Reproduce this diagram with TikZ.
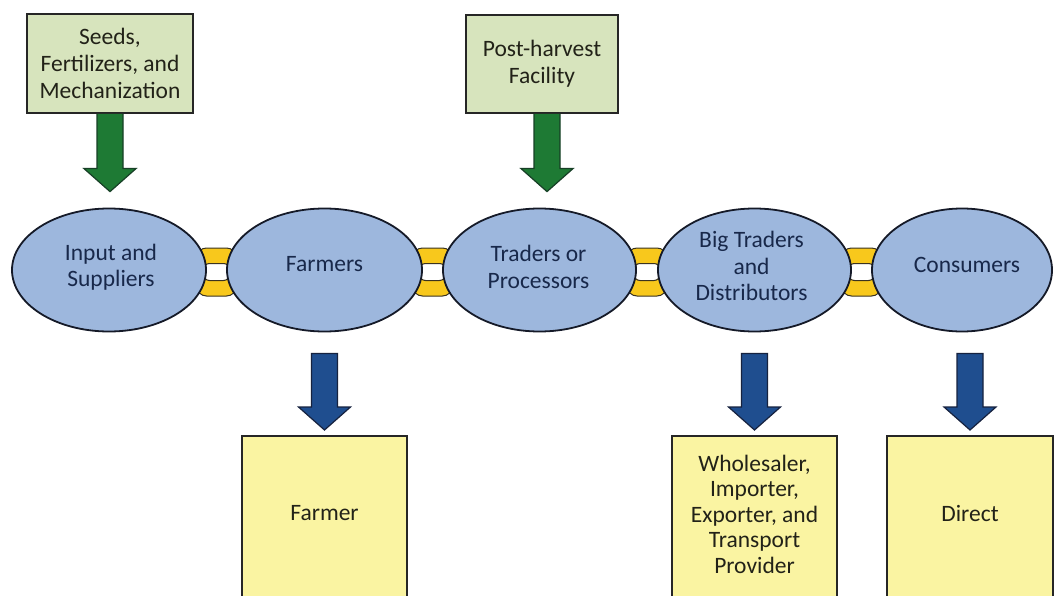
\documentclass[tikz,border=0pt]{standalone}
\usepackage{fontspec}
\setmainfont{Carlito}
\usetikzlibrary{calc,shapes.geometric}
\pgfdeclarelayer{background}
\pgfsetlayers{background,main}
\definecolor{boxgreen}{HTML}{D7E4BD}
\definecolor{boxyellow}{HTML}{FAF4A2}
\definecolor{ellblue}{HTML}{9DB7DD}
\definecolor{ringyellow}{HTML}{F8C81C}
\definecolor{ringline}{HTML}{3A3320}
\definecolor{arrgreen}{HTML}{1E7A34}
\definecolor{arrgreenline}{HTML}{173F26}
\definecolor{arrblue}{HTML}{1F4E8F}
\definecolor{arrblueline}{HTML}{16223F}
\definecolor{ellline}{HTML}{151A28}
\definecolor{elltext}{HTML}{18284A}
\definecolor{boxtext}{HTML}{222218}
\newcommand\fatdown[4]{%
  \filldraw[#1] let \p1=(#2), \p2=(#3) in
   (\x1-13pt,\y1) -- (\x1-13pt,\y2+23pt) -- (\x1-26pt,\y2+23pt) -- (\x1,\y2)
   -- (\x1+26pt,\y2+23pt) -- (\x1+13pt,\y2+23pt) -- (\x1+13pt,\y1) #4;}
\newcommand\chainring[1]{%
  \draw[ring] ($(#1)+(-20,-22)$) [rounded corners=10pt] rectangle ($(#1)+(20,26)$)
              ($(#1)+(-13,-6.5)$) [rounded corners=6pt] rectangle ($(#1)+(13,10.5)$);}
\begin{document}
\begin{tikzpicture}[x=1pt,y=-1pt,
  topbox/.style={rectangle, draw=black!85, line width=2pt, fill=boxgreen, inner sep=0pt,
                 align=center, font=\fontsize{23.5}{27}\selectfont, text=boxtext},
  botbox/.style={rectangle, draw=black!85, line width=2pt, fill=boxyellow, inner sep=0pt},
  ell/.style={ellipse, draw=ellline, line width=1.8pt, fill=ellblue, inner sep=0pt},
  elltxt/.style={align=center, font=\fontsize{23.5}{26.5}\selectfont, text=elltext, inner sep=0pt},
  boxtxt/.style={align=center, font=\fontsize{23.5}{25.5}\selectfont, text=boxtext, inner sep=0pt},
  ring/.style={fill=ringyellow, draw=ringline, line width=1pt, even odd rule},
  greenarrow/.style={fill=arrgreen, draw=arrgreenline, line width=1.2pt, line join=miter},
  bluearrow/.style={fill=arrblue, draw=arrblueline, line width=1.2pt, line join=miter}
]
\useasboundingbox (0,0) rectangle (1054,596);
\clip (0,0) rectangle (1054,596);

% top boxes
\node[topbox, minimum width=166, minimum height=99] (seeds) at (110,63.5)
  {Seeds,\\Fertilizers, and\\Mechanization};
\node[topbox, minimum width=152, minimum height=98] (post) at (542,64)
  {Post-harvest\\Facility};

% ellipses
\node[ell, minimum width=194, minimum height=123] (input)   at (109,270) {};
\node[ell, minimum width=195, minimum height=123] (farmers) at (324.5,270) {};
\node[ell, minimum width=193, minimum height=123] (traders) at (539.5,270) {};
\node[ell, minimum width=193, minimum height=123] (big)     at (754.5,270) {};
\node[ell, minimum width=180, minimum height=123] (cons)    at (962,270) {};

\node[elltxt] (inputtxt)   at ($(input)+(2,-3)$)   {Input and\\Suppliers};
\node[elltxt] (farmerstxt) at ($(farmers)+(0,-6)$) {Farmers};
\node[elltxt] (traderstxt) at ($(traders)+(-1,-3)$) {Traders or\\Processors};
\node[elltxt] (bigtxt)     at ($(big)+(-3,-4)$)     {Big Traders\\and\\Distributors};
\node[elltxt] (constxt)    at ($(cons)+(5,-5)$)     {Consumers};

% chain links between ellipses (behind the ellipses)
\begin{pgfonlayer}{background}
  \fill[white] (0,0) rectangle (1054,596);
  \chainring{$(input.east)!0.5!(farmers.west)$}
  \chainring{$(farmers.east)!0.5!(traders.west)$}
  \chainring{$(traders.east)!0.5!(big.west)$}
  \chainring{$(big.east)!0.5!(cons.west)$}
\end{pgfonlayer}

% bottom boxes
\node[botbox, minimum width=165, minimum height=190] (farmerbox) at (324.5,531) {};
\node[botbox, minimum width=165, minimum height=190] (wholebox)  at (754.5,531) {};
\node[botbox, minimum width=166, minimum height=190] (directbox) at (970,531) {};

\node[boxtxt] (farmerboxtxt) at (324.5,513) {Farmer};
\node[boxtxt] (wholeboxtxt)  at (754.5,514) {Wholesaler,\\Importer,\\Exporter, and\\Transport\\Provider};
\node[boxtxt] (directboxtxt) at (970,513)   {Direct};

% green arrows
\fatdown{greenarrow}{seeds.south}{$(seeds.south |- input.north)+(0,-16)$}{}
\fatdown{greenarrow}{$(post.south)+(5,0)$}{$(post.south |- traders.north)+(5,-16)$}{}

% blue arrows
\fatdown{bluearrow}{$(farmerbox.north |- farmers.south)+(0,21)$}{$(farmerbox.north)+(0,-5)$}{-- cycle}
\fatdown{bluearrow}{$(wholebox.north |- big.south)+(0,21)$}{$(wholebox.north)+(0,-5)$}{-- cycle}
\fatdown{bluearrow}{$(directbox.north |- cons.south)+(0,21)$}{$(directbox.north)+(0,-5)$}{-- cycle}
\end{tikzpicture}
\end{document}
